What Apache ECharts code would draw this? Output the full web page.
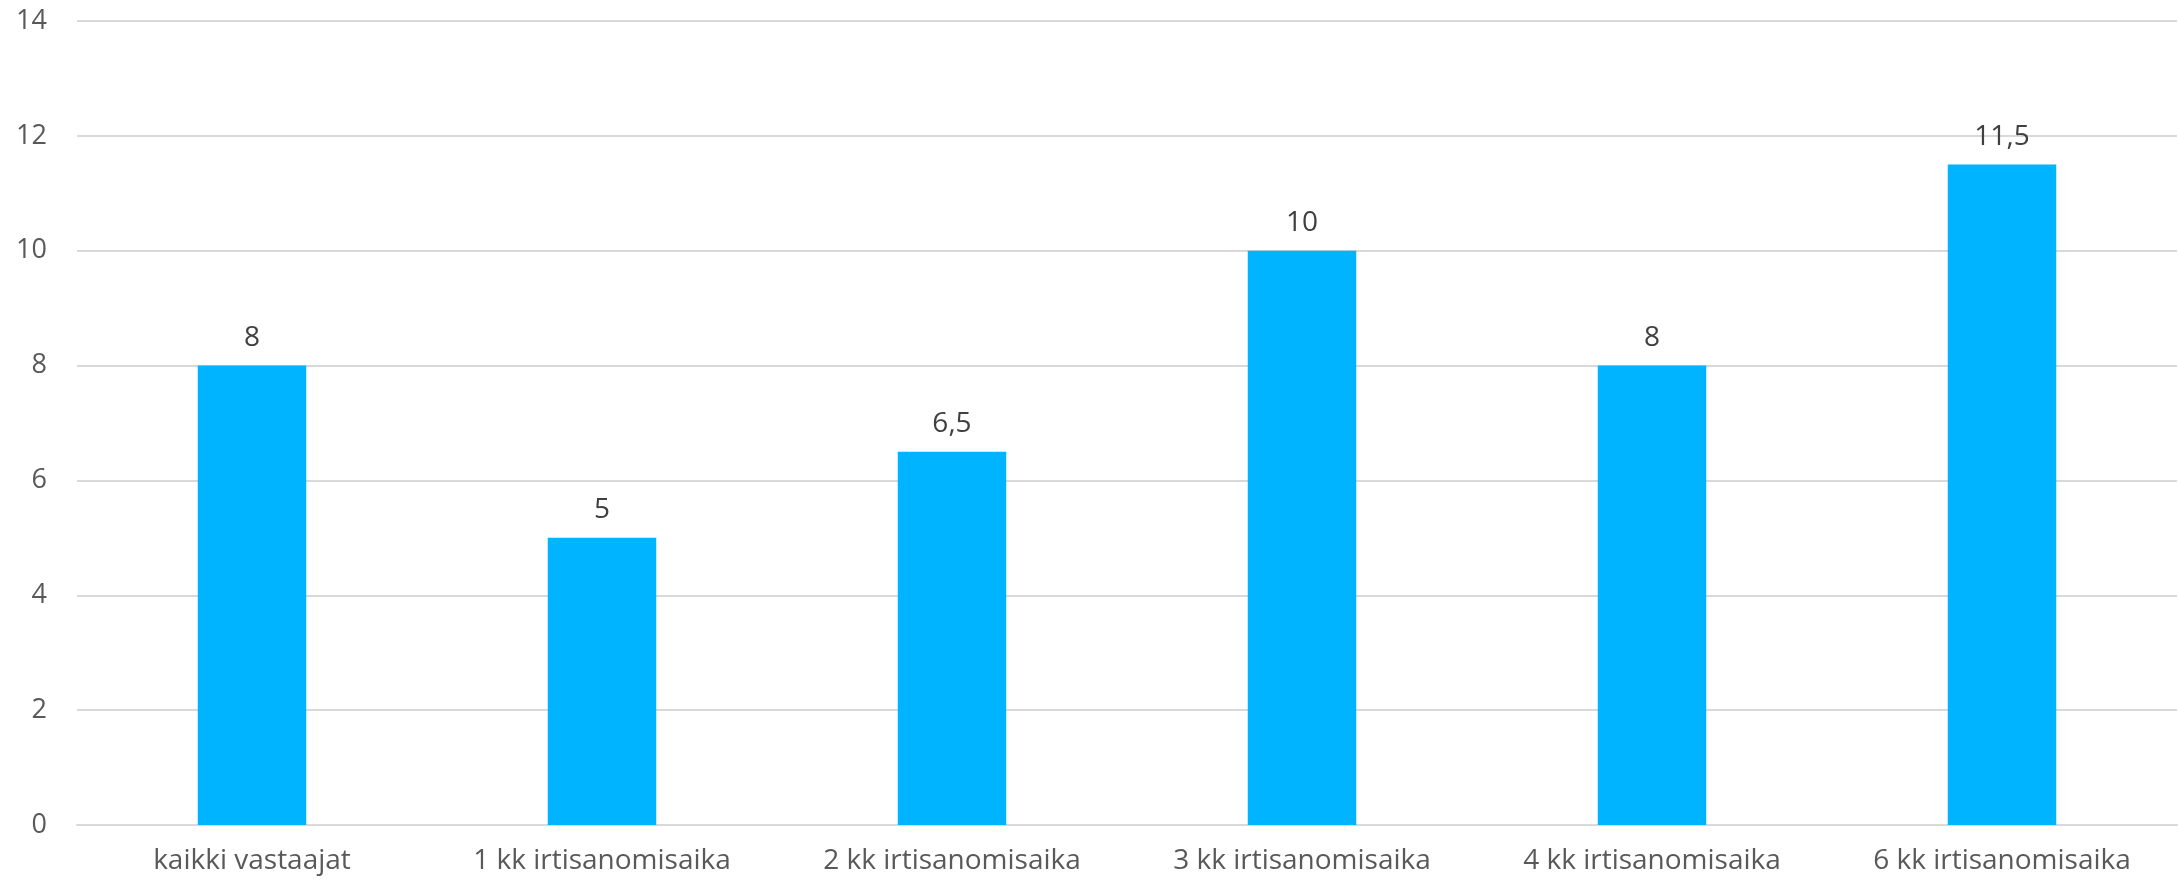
<!DOCTYPE html>
<html><head><meta charset="utf-8">
<script src="https://cdn.jsdelivr.net/npm/echarts@6/dist/echarts.min.js"></script>
<style>html,body{margin:0;padding:0;background:#fff}#c{width:2178px;height:882px}</style>
</head><body><div id="c"></div>
<script>
const categories = ['kaikki vastaajat','1 kk irtisanomisaika','2 kk irtisanomisaika','3 kk irtisanomisaika','4 kk irtisanomisaika','6 kk irtisanomisaika'];
const values = [8, 5, 6.5, 10, 8, 11.5];
const yMin = 0, yMax = 14, yStep = 2;
const chart = echarts.init(document.getElementById('c'));
chart.setOption({
  animation: false,
  grid: {left: 77, right: 1, top: 21, bottom: 57, containLabel: false},
  xAxis: {
    type: 'category', data: categories,
    axisLine: {show: true, lineStyle: {color: '#d9d9d9', width: 2}},
    axisTick: {show: false},
    axisLabel: {color: '#595959', fontSize: 28, fontFamily: 'Open Sans', margin: 22}
  },
  yAxis: {
    type: 'value', min: yMin, max: yMax, interval: yStep,
    axisLine: {show: false}, axisTick: {show: false},
    splitLine: {lineStyle: {color: '#d9d9d9', width: 2}},
    axisLabel: {color: '#595959', fontSize: 27, fontFamily: 'Open Sans', margin: 30}
  },
  series: [{
    type: 'bar', data: values, barWidth: '31%',
    itemStyle: {color: '#00B4FF'},
    label: {show: true, position: 'top', distance: 14, color: '#404040', fontSize: 28, fontFamily: 'Open Sans',
      formatter: p => String(p.value).replace('.', ',')}
  }]
});
</script></body></html>
